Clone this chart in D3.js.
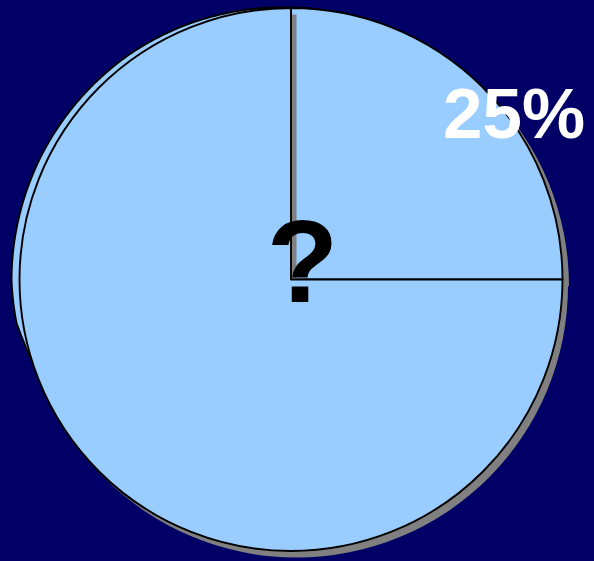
<!DOCTYPE html>
<html>
<head>
<meta charset="utf-8">
<script src="https://cdn.jsdelivr.net/npm/d3@7"></script>
<style>
  html, body { margin: 0; padding: 0; background: #000066; }
  svg { display: block; }
</style>
</head>
<body>
<script>
// ---- data ----
const categories = ["25%", "?"];
const values = [25, 75];
// rim of the back disc: angle (deg, clockwise from 12 o'clock) -> extra radius (px)
const rimAngles = [252, 257, 261, 270, 296, 324, 336, 360, 365];
const rimGaps   = [0, 3, 6.4, 8, 7.2, 5.6, 4.1, 0.5, 0];

const W = 594, H = 561;
const cx = 291, cy = 279.5, R = 271.5;
const shadowOff = 6.5;
const fillColor = "#99ccff", shadowColor = "#808080";
const sw = 1.9;

const svg = d3.select("body").append("svg")
  .attr("width", W).attr("height", H);
svg.append("rect").attr("width", W).attr("height", H).attr("fill", "#000066");

const pie = d3.pie().sort(null).value(d => d)(values);
const arc = d3.arc().innerRadius(0).outerRadius(R);

const g = svg.append("g").attr("transform", `translate(${cx},${cy})`);

// back disc (slightly wider on the left)
const gapScale = d3.scaleLinear().domain(rimAngles).range(rimGaps);
const pts = [[0, 0]];
for (let a = rimAngles[0]; a <= rimAngles[rimAngles.length - 1]; a += 0.5) {
  pts.push([a * Math.PI / 180, R + gapScale(a)]);
}
g.append("path")
  .attr("d", d3.lineRadial().angle(d => d[0]).radius(d => d[1])(pts) + "Z")
  .attr("fill", fillColor).attr("stroke", "#000").attr("stroke-width", sw);

// 25% slice with its shadow
g.append("path").attr("d", arc(pie[0]))
  .attr("transform", `translate(${shadowOff},${shadowOff})`)
  .attr("fill", shadowColor);
g.append("path").attr("d", arc(pie[0]))
  .attr("fill", fillColor).attr("stroke", "#000").attr("stroke-width", sw)
  .attr("stroke-linejoin", "round");

// 75% slice with its shadow
g.append("path").attr("d", arc(pie[1]))
  .attr("transform", `translate(${shadowOff - 1},${shadowOff})`)
  .attr("fill", shadowColor);
g.append("path").attr("d", arc(pie[1]))
  .attr("fill", fillColor).attr("stroke", "#000").attr("stroke-width", sw)
  .attr("stroke-linejoin", "round");

// labels
svg.append("text")
  .attr("x", 443).attr("y", 138)
  .attr("font-family", "Liberation Sans, Arial, sans-serif")
  .attr("font-weight", "bold").attr("font-size", 71)
  .attr("fill", "#ffffff")
  .text(categories[0]);

svg.append("text")
  .attr("x", 302.5).attr("y", 302)
  .attr("text-anchor", "middle")
  .attr("font-family", "Liberation Sans, Arial, sans-serif")
  .attr("font-weight", "bold").attr("font-size", 117)
  .attr("fill", "#000000")
  .text(categories[1]);
</script>
</body>
</html>
